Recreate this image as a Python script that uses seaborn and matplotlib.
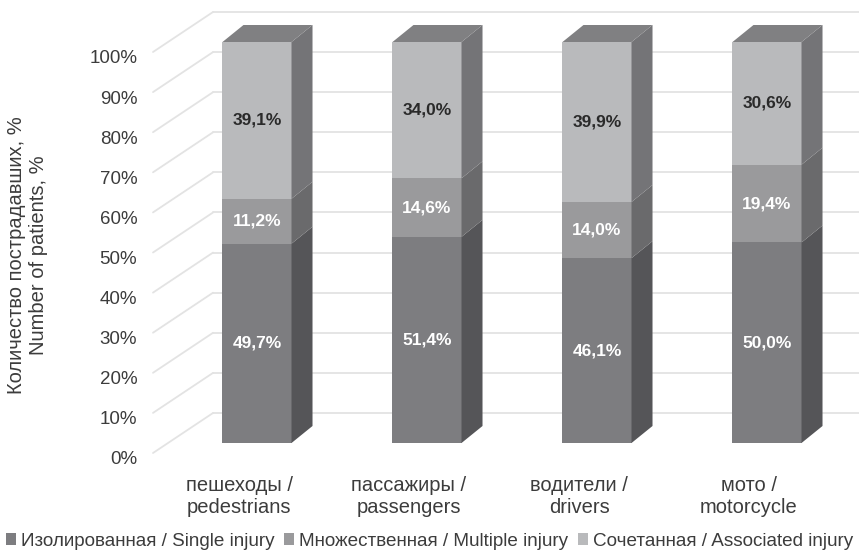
import numpy as np
import pandas as pd
import matplotlib
matplotlib.use("Agg")
import matplotlib.pyplot as plt
import seaborn as sns
from matplotlib.patches import Polygon, Patch
from matplotlib.transforms import ScaledTranslation

# ---------------- data ----------------
categories = ["пешеходы /\npedestrians", "пассажиры /\npassengers",
              "водители /\ndrivers", "мото /\nmotorcycle"]
single = [49.7, 51.4, 46.1, 50.0]
multiple = [11.2, 14.6, 14.0, 19.4]
associated = [39.1, 34.0, 39.9, 30.6]
series_names = ["Изолированная / Single injury",
                "Множественная / Multiple injury",
                "Сочетанная / Associated injury"]
yticks = list(range(0, 101, 10))
ytick_labels = [f"{t}%" for t in yticks]

# ---------------- style ----------------
sns.set_style("white")
plt.rcParams["font.family"] = ["Liberation Sans", "DejaVu Sans"]
TXT = "#3c3c3c"
front = ["#7d7d80", "#9a9a9c", "#b9babc"]
side = ["#555558", "#6a6a6c", "#747477"]
top_col = "#808082"
grid_col = "#e3e3e3"

W, H = 859, 550
fig = plt.figure(figsize=(W / 100, H / 100), dpi=100)
ax_l, ax_r, ax_t, ax_b = 172, 852, 42, 443
ax = fig.add_axes([ax_l / W, 1 - ax_b / H, (ax_r - ax_l) / W, (ax_b - ax_t) / H])

df = pd.DataFrame({"category": categories, "single": single,
                   "multiple": multiple, "associated": associated})
df["c1"] = df["single"]
df["c2"] = df["single"] + df["multiple"]
df["c3"] = df["c2"] + df["associated"]

bw = 0.406
sns.barplot(data=df, x="category", y="c3", color=front[2], width=bw,
            saturation=1, ax=ax, zorder=3, linewidth=0)
sns.barplot(data=df, x="category", y="c2", color=front[1], width=bw,
            saturation=1, ax=ax, zorder=3, linewidth=0)
sns.barplot(data=df, x="category", y="c1", color=front[0], width=bw,
            saturation=1, ax=ax, zorder=3, linewidth=0)

ax.set_xlim(-0.5, 3.5)
ax.set_ylim(0, 100)

# pixel -> data conversions
px_x = 4.0 / (ax_r - ax_l)
px_y = 100.0 / (ax_b - ax_t)
ax_px = 1.0 / (ax_r - ax_l)

# 3D depth faces derived from the seaborn bar geometry
dx, dy = 21 * px_x, 17 * px_y
bars = ax.patches[:4]
for i, p in enumerate(bars):
    xl = p.get_x()
    xr = xl + p.get_width()
    bounds = [0, df["c1"][i], df["c2"][i], df["c3"][i]]
    for s in range(3):
        y0, y1 = bounds[s], bounds[s + 1]
        ax.add_patch(Polygon([(xr, y0), (xr + dx, y0 + dy), (xr + dx, y1 + dy), (xr, y1)],
                             closed=True, facecolor=side[s], edgecolor="none",
                             zorder=3, clip_on=False))
    c3 = bounds[3]
    ax.add_patch(Polygon([(xl, c3), (xl + dx, c3 + dy), (xr + dx, c3 + dy), (xr, c3)],
                         closed=True, facecolor=top_col, edgecolor="none",
                         zorder=3, clip_on=False))
    # value labels
    cx = xl + p.get_width() / 2
    vals = [single[i], multiple[i], associated[i]]
    for s in range(3):
        y0, y1 = bounds[s], bounds[s + 1]
        ax.text(cx, (y0 + y1) / 2, f"{vals[s]:.1f}%".replace(".", ","),
                ha="center", va="center", fontsize=12.5, fontweight="bold",
                color="white" if s < 2 else "#2a2a2a", zorder=5)

# back wall gridlines and side wall diagonals
yt = ax.get_yaxis_transform()
for t in yticks:
    ax.plot([41 * ax_px, 1.02], [t + 30 * px_y] * 2, transform=yt, color=grid_col,
            lw=1.3, clip_on=False, zorder=1)
    ax.plot([-19 * ax_px, 41 * ax_px], [t - 10 * px_y, t + 30 * px_y], transform=yt,
            color=grid_col, lw=1.3, clip_on=False, zorder=1)

for sp in ax.spines.values():
    sp.set_visible(False)
ax.grid(False)

ax.set_yticks(yticks)
ax.set_yticklabels(ytick_labels)
ax.tick_params(axis="y", length=0, pad=25, labelsize=13.5, labelcolor=TXT)
for lbl in ax.get_yticklabels():
    lbl.set_transform(lbl.get_transform() + ScaledTranslation(0, -0.15, fig.dpi_scale_trans))

ax.set_xticks(range(len(categories)))
ax.set_xticklabels(categories)
ax.tick_params(axis="x", length=0, pad=24, labelsize=14.5, labelcolor=TXT)
for lbl in ax.get_xticklabels():
    lbl.set_transform(lbl.get_transform() + ScaledTranslation(-0.18, 0, fig.dpi_scale_trans))
ax.set_xlabel("")

ax.set_ylabel("Количество пострадавших, %\nNumber of patients, %", fontsize=14.5, color=TXT)
ax.yaxis.set_label_coords(-0.182, 0.469)

handles = [Patch(facecolor=front[s], edgecolor="none") for s in range(3)]
fig.legend(handles, series_names, loc="lower center", bbox_to_anchor=(0.5, -0.02),
           ncol=3, frameon=False, fontsize=13.6, handlelength=0.55, handleheight=0.55,
           handletextpad=0.25, columnspacing=0.5, borderaxespad=0.2, labelcolor=TXT)

fig.savefig("out.png", dpi=100)
